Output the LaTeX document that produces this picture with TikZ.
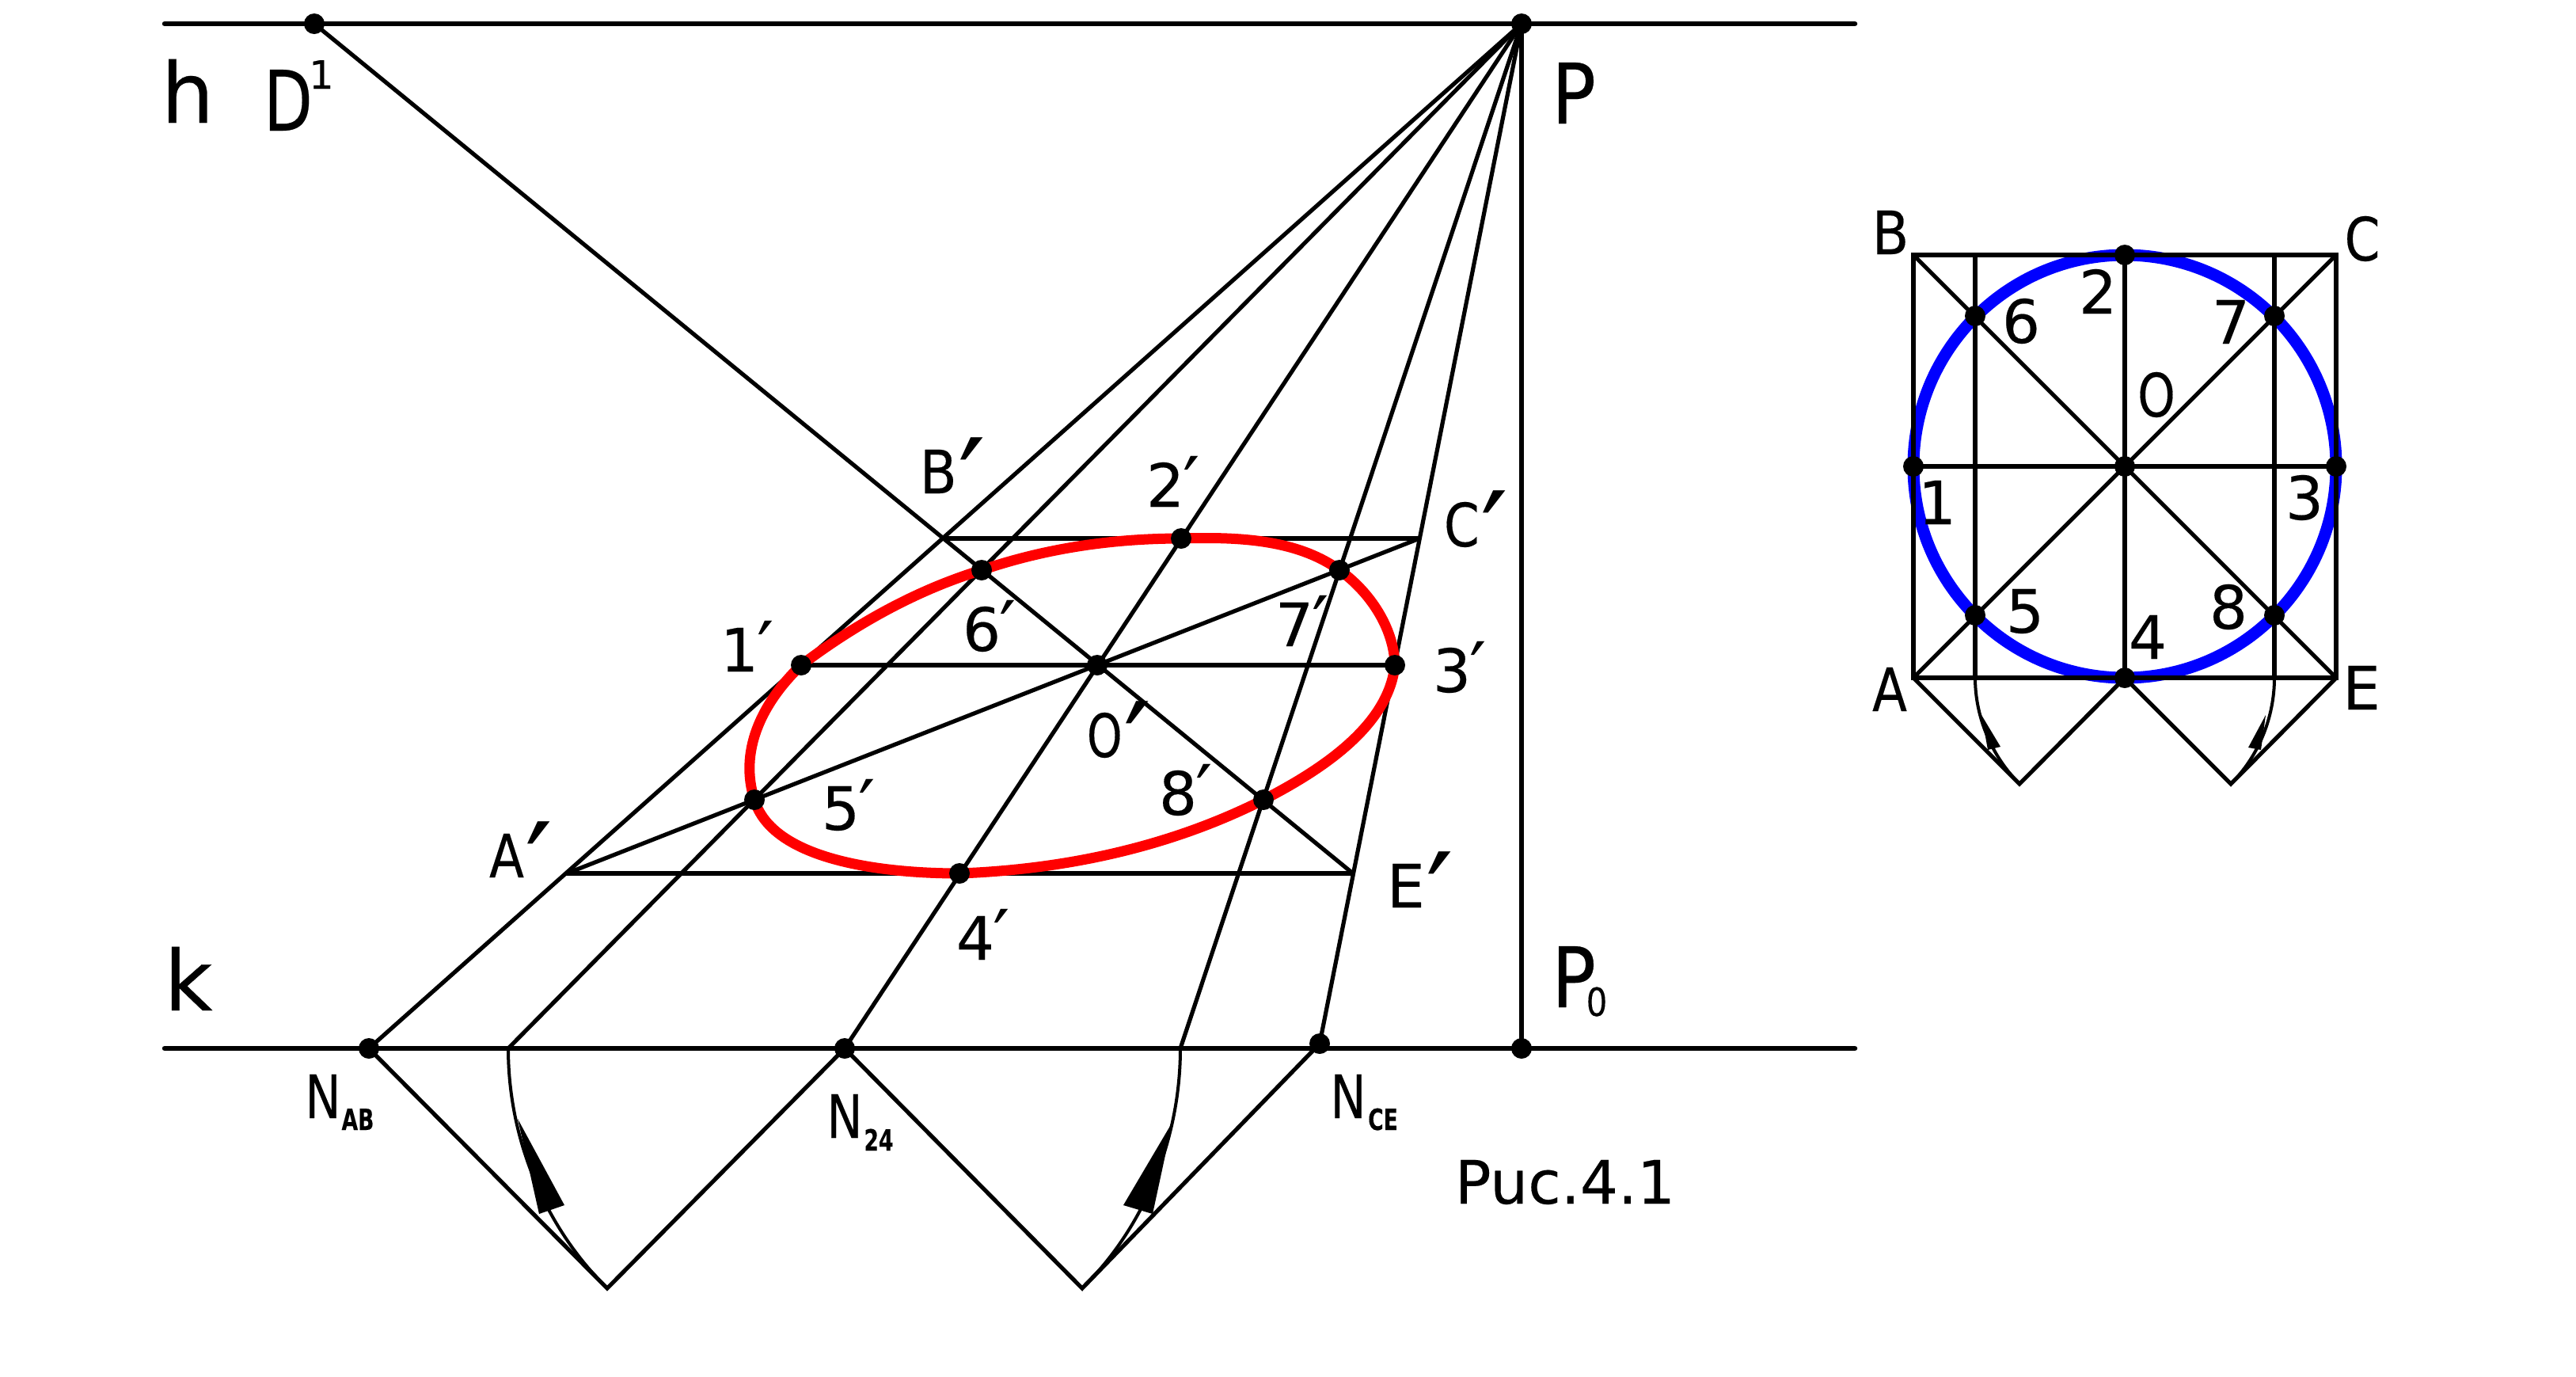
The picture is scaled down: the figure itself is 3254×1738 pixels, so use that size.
\documentclass[tikz,border=0pt]{standalone}
\usepackage{fontspec}
\setmainfont[FakeBold=0.25]{DejaVu Sans}
\newfontfamily\prf{DejaVu Sans}
\newcommand{\fs}[1]{\fontsize{#1}{#1}\selectfont}
\newcommand{\prS}{{\prf\fs{27}\kern-0.5pt\raisebox{-1.5pt}{′}}}
\newcommand{\prL}{{\prf\fs{44}\kern0.5pt\raisebox{-12pt}{′}}}
\newcommand{\nar}[2]{\scalebox{#1}[1]{#2}}
\tikzset{
  thick line/.style={line width=0.065cm,line cap=round},
  geo line/.style={line width=0.052cm,line cap=round,line join=miter},
  arc line/.style={line width=0.04cm},
  dot/.style={circle,fill=black,inner sep=0pt,minimum size=0.26cm},
  lb/.style={anchor=base,inner sep=0pt,outer sep=0pt,text=black},
  lw/.style={anchor=base west,inner sep=0pt,outer sep=0pt,text=black},
  big/.style={font=\fs{30}},
  mid/.style={font=\fs{21.5}},
  sub/.style={font=\fs{10.5}\bfseries},
}
\begin{document}
\begin{tikzpicture}[x=0.01cm,y=-0.01cm]
\useasboundingbox[fill=white] (0,0) rectangle (3254,1738);
% main figure geometry
\coordinate (hL) at (208,30); \coordinate (hR) at (2343,30);
\coordinate (kL) at (208,1324); \coordinate (kR) at (2343,1324);
\coordinate (D) at (397,30); \coordinate (P) at (1922,30); \coordinate (P0) at (1922,1324);
\coordinate (NAB) at (466,1324); \coordinate (N5) at (642,1324); \coordinate (N24) at (1067,1324);
\coordinate (N8) at (1491,1324); \coordinate (NCE) at (1667,1318);
\coordinate (ap1) at (767,1627); \coordinate (ap2) at (1367,1627);
\coordinate (Ap) at (716,1103); \coordinate (Bp) at (1191,680); \coordinate (Cp) at (1793,680); \coordinate (Ep) at (1709,1103);
\coordinate (Op) at (1386,840);
\coordinate (p1) at (1012,840); \coordinate (p2) at (1492,680); \coordinate (p3) at (1762,840); \coordinate (p4) at (1212,1103);
\coordinate (p5) at (953,1010); \coordinate (p6) at (1240,720); \coordinate (p7) at (1692,720); \coordinate (p8) at (1596,1010);
% main lines
\draw[thick line] (hL) -- (hR);
\draw[thick line] (kL) -- (kR);
\draw[geo line] (P) -- (P0);
\draw[geo line] (NAB) -- (P);
\draw[geo line] (N5) -- (P);
\draw[geo line] (N24) -- (P);
\draw[geo line] (N8) -- (P);
\draw[geo line] (NCE) -- (P);
\draw[geo line] (D) -- (Ep);
\draw[geo line] (Ap) -- (Cp);
\draw[geo line] (Bp) -- (Cp);
\draw[geo line] (Ap) -- (Ep);
\draw[geo line] (p1) -- (p3);
\draw[geo line] (NAB) -- (ap1) -- (N24) -- (ap2) -- (NCE);
\draw[arc line] (N5) .. controls (642,1437) and (687,1548) .. (ap1);
\draw[arc line] (N8) .. controls (1491,1437) and (1447,1548) .. (ap2);
\fill (654,1413) -- (681,1533) -- (713,1522) -- cycle;
\fill (1481,1417) -- (1419,1522) -- (1456,1533) -- cycle;
% ellipse
\draw[red,line width=0.13cm,line join=round] (p1)
 .. controls (1081,788) and (1158,745) .. (p6)
 .. controls (1322,692) and (1407,680) .. (p2)
 .. controls (1560,678) and (1637,680) .. (p7)
 .. controls (1730,747) and (1761,793) .. (p3)
 .. controls (1754,918) and (1666,974) .. (p8)
 .. controls (1477,1070) and (1345,1098) .. (p4)
 .. controls (1110,1103) and (975,1085) .. (p5)
 .. controls (934,950) and (960,890) .. (p1) -- cycle;
% main dots
\foreach \n in {D,P,P0,NAB,N24,NCE,Op,p1,p2,p3,p4,p5,p6,p7,p8}{\node[dot] (dot\n) at (\n) {};}
% small figure geometry
\coordinate (A) at (2417,856); \coordinate (B) at (2417,322); \coordinate (C) at (2951,322); \coordinate (E) at (2951,856);
\coordinate (O) at (2684,589);
\coordinate (s1) at (2417,589); \coordinate (s2) at (2684,322); \coordinate (s3) at (2951,589); \coordinate (s4) at (2684,856);
\coordinate (s5) at (2495,777); \coordinate (s6) at (2495,399); \coordinate (s7) at (2873,399); \coordinate (s8) at (2873,777);
\coordinate (t5) at (2495,322); \coordinate (t7) at (2873,322);
\coordinate (b5) at (2495,856); \coordinate (b7) at (2873,856);
\coordinate (sap1) at (2551,990); \coordinate (sap2) at (2818,990);
\draw[blue,line width=0.15cm] (O) circle (267);
\draw[geo line] (A) -- (B) -- (C) -- (E) -- cycle;
\draw[geo line] (A) -- (C);
\draw[geo line] (B) -- (E);
\draw[geo line] (s1) -- (s3);
\draw[geo line] (s2) -- (s4);
\draw[geo line] (t5) -- (b5);
\draw[geo line] (t7) -- (b7);
\draw[geo line] (A) -- (sap1) -- (s4) -- (sap2) -- (E);
\draw[arc line] (b5) .. controls (2495,906) and (2516,955) .. (sap1);
\draw[arc line] (b7) .. controls (2873,906) and (2853,955) .. (sap2);
\fill (2503,903) -- (2511,947) -- (2527,943) -- cycle;
\fill (2862,903) -- (2840,944) -- (2856,947) -- cycle;
\foreach \n in {O,s1,s2,s3,s4,s5,s6,s7,s8}{\node[dot] (dot\n) at (\n) {};}
% labels main
\node[lb,big] (th) at (237,155) {h};
\node[lb,big] (tD) at (364,165) {\nar{.76}{D}};
\node[lb,font=\fs{14}] (tD1) at (406,112) {1};
\node[lb,big] (tP) at (1988,156) {\nar{.88}{P}};
\node[lb,big] (tk) at (238,1276) {k};
\node[lb,big] (tP0) at (1988,1272) {\nar{.88}{P}};
\node[lb,font=\fs{14}] (tP0s) at (2017,1283) {\nar{.85}{0}};
\node[lb,mid] (tN1) at (408,1412) {\nar{.8}{N}};
\node[lb,sub] (tN1s) at (452,1427) {\nar{.72}{AB}};
\node[lb,mid] (tN2) at (1067,1437) {\nar{.8}{N}};
\node[lb,sub] (tN2s) at (1110,1453) {\nar{.72}{24}};
\node[lb,mid] (tN3) at (1703,1412) {\nar{.8}{N}};
\node[lb,sub] (tN3s) at (1747,1427) {\nar{.72}{CE}};
\node[lw,font=\fs{21.5}] (tcap) at (1838,1520) {Puc.4.1};
\node[lw,mid] (tBp) at (1162,623) {\nar{.9}{B}\prL};
\node[lw,mid] (t2p) at (1448,640) {2\prS};
\node[lw,mid] (tCp) at (1824,690) {\nar{.85}{C}\prL};
\node[lw,mid] (t1p) at (910,848) {1\prS};
\node[lw,mid] (t6p) at (1216,822) {6\prS};
\node[lw,mid] (t7p) at (1611,816) {7\prS};
\node[lw,mid] (t3p) at (1810,874) {3\prS};
\node[lw,mid] (t0p) at (1373,956) {\nar{.75}{O}\prL};
\node[lw,mid] (t5p) at (1038,1048) {5\prS};
\node[lw,mid] (t8p) at (1464,1029) {8\prS};
\node[lw,mid] (tEp) at (1752,1146) {E\prL};
\node[lw,mid] (tAp) at (618,1108) {\nar{.85}{A}\prL};
\node[lw,mid] (t4p) at (1208,1212) {4\prS};
% labels small
\node[lb,mid] (tB) at (2388,321) {\nar{.9}{B}};
\node[lb,mid] (tC) at (2984,329) {\nar{.85}{C}};
\node[lb,mid] (tA) at (2387,898) {\nar{.85}{A}};
\node[lb,mid] (tE) at (2983,896) {E};
\node[lb,mid] (t2) at (2650,396) {2};
\node[lb,mid] (t6) at (2553,433) {6};
\node[lb,mid] (t7) at (2818,434) {7};
\node[lb,mid] (t0) at (2724,526) {\nar{.8}{O}};
\node[lb,mid] (t1) at (2447,662) {1};
\node[lb,mid] (t3) at (2911,656) {3};
\node[lb,mid] (t5) at (2558,799) {5};
\node[lb,mid] (t8) at (2815,794) {8};
\node[lb,mid] (t4) at (2713,832) {4};
\end{tikzpicture}
\end{document}
